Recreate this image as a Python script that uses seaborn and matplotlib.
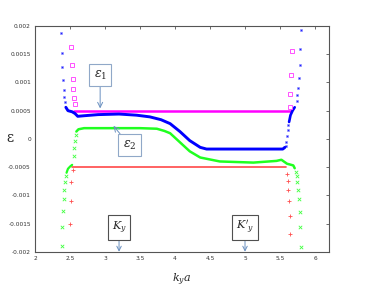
import numpy as np
import seaborn as sns
import matplotlib
matplotlib.use('Agg')
import matplotlib.pyplot as plt

# --- eps1 upper branch (magenta, hollow squares)
mag_line_x = [2.56, 3.0, 4.0, 5.0, 5.66]
mag_line_y = [0.0005, 0.0005, 0.0005, 0.0005, 0.0005]
mag_pts_x = [2.51, 2.53, 2.54, 2.54, 2.56, 2.57, 5.67, 5.66, 5.64, 5.64]
mag_pts_y = [0.00163, 0.00131, 0.00106, 0.00088, 0.00073, 0.00062,
             0.00156, 0.00113, 0.00079, 0.00056]

# --- eps1 (blue, filled squares)
blue_line_x = [2.44, 2.47, 2.53, 2.57, 2.61, 2.7, 2.9, 3.2, 3.45, 3.64, 3.8,
               3.93, 4.07, 4.21, 4.36, 4.45, 5.0, 5.54, 5.57]
blue_line_y = [0.00056, 0.0005, 0.00048, 0.00045, 0.0004, 0.00041, 0.00043,
               0.00044, 0.00042, 0.00039, 0.00034, 0.00027, 0.00013, -0.00003,
               -0.00015, -0.00018, -0.00018, -0.00018, -0.00015]
blue_line2_x = [5.63, 5.65, 5.68, 5.71]
blue_line2_y = [0.0003, 0.00042, 0.0005, 0.00056]
blue_pts_x = [2.37, 2.38, 2.39, 2.40, 2.41, 2.42, 2.43,
              5.58, 5.59, 5.6, 5.61, 5.62,
              5.74, 5.75, 5.76, 5.77, 5.78, 5.79, 5.8]
blue_pts_y = [0.00188, 0.00153, 0.00127, 0.00104, 0.00087, 0.00074, 0.00065,
              -0.00013, -0.00005, 0.00005, 0.00016, 0.00024,
              0.00068, 0.00078, 0.00091, 0.00108, 0.00131, 0.00159, 0.00193]

# --- eps2 (green, x markers)
green_line_x = [2.45, 2.47, 2.5, 2.53]
green_line_y = [-0.0006, -0.00053, -0.00049, -0.00046]
green_line2_x = [2.59, 2.62, 2.7, 3.0, 3.5, 3.74, 3.85, 3.93, 4.07, 4.21,
                 4.36, 4.64, 5.12, 5.45, 5.52, 5.6, 5.69, 5.71]
green_line2_y = [0.00013, 0.00017, 0.00019, 0.00019, 0.00019, 0.00018, 0.00014,
                 0.0001, -0.00006, -0.00022, -0.00033, -0.0004, -0.00042,
                 -0.00039, -0.00037, -0.00044, -0.00047, -0.00052]
green_pts_x = [2.38, 2.39, 2.40, 2.41, 2.42, 2.43, 2.44,
               2.55, 2.56, 2.57, 2.58,
               5.73, 5.74, 5.75, 5.76, 5.77, 5.78, 5.79, 5.8]
green_pts_y = [-0.0019, -0.00157, -0.00128, -0.00107, -0.0009, -0.00076, -0.00066,
               -0.00031, -0.00016, -0.00004, 0.00007,
               -0.00058, -0.00066, -0.00077, -0.0009, -0.00107, -0.00129,
               -0.00157, -0.00192]

# --- eps2 lower branch (red, + markers)
red_line_x = [2.53, 3.0, 4.0, 5.0, 5.58]
red_line_y = [-0.0005, -0.0005, -0.0005, -0.0005, -0.0005]
red_pts_x = [2.54, 2.52, 2.51, 2.5, 5.6, 5.62, 5.62, 5.63, 5.64, 5.65]
red_pts_y = [-0.00055, -0.00077, -0.0011, -0.00151,
             -0.00063, -0.00075, -0.0009, -0.0011, -0.00136, -0.00169]

xticks = [2, 2.5, 3, 3.5, 4, 4.5, 5, 5.5, 6]
xticklabels = ['2', '2.5', '3', '3.5', '4', '4.5', '5', '5.5', '6']
yticks = [-0.002, -0.0015, -0.001, -0.0005, 0, 0.0005, 0.001, 0.0015, 0.002]
yticklabels = ['-0.002', '-0.0015', '-0.001', '-0.0005', '0',
               '0.0005', '0.001', '0.0015', '0.002']

sns.set_style('white')
plt.rcParams['font.family'] = ['DejaVu Sans']
plt.rcParams['mathtext.fontset'] = 'dejavuserif'

fig = plt.figure(figsize=(3.73, 2.99), dpi=100)
ax = fig.add_axes([0.094, 0.158, 0.788, 0.755])

def line(x, y, c, lw):
    sns.lineplot(x=x, y=y, color=c, linewidth=lw, sort=False, estimator=None, ax=ax)

line(mag_line_x, mag_line_y, '#ff00ff', 1.8)
line(red_line_x, red_line_y, '#ff4848', 1.2)
line(green_line_x, green_line_y, '#20ff20', 1.6)
line(green_line2_x, green_line2_y, '#20ff20', 1.8)
line(blue_line_x, blue_line_y, '#0000ff', 2.1)
line(blue_line2_x, blue_line2_y, '#0000ff', 1.9)

# hollow squares through a marker-only lineplot
sns.lineplot(x=mag_pts_x, y=mag_pts_y, sort=False, estimator=None, linestyle='',
             marker='s', markersize=2.8, markerfacecolor='none',
             markeredgecolor='#ff50ff', markeredgewidth=0.7, color='#ff50ff', ax=ax)
sns.scatterplot(x=blue_pts_x, y=blue_pts_y, marker='s', s=3.5, color='#2020ff',
                edgecolor='#9090ff', linewidth=0.4, ax=ax)
sns.scatterplot(x=green_pts_x, y=green_pts_y, marker='x', s=6, color='#40ff40',
                linewidth=0.6, ax=ax)
sns.scatterplot(x=red_pts_x, y=red_pts_y, marker='+', s=7, color='#ff5050',
                linewidth=0.6, ax=ax)

ax.set_xlim(2, 6.2)
ax.set_ylim(-0.002, 0.002)
ax.set_xticks(xticks)
ax.set_xticklabels(xticklabels)
ax.set_yticks(yticks)
ax.set_yticklabels(yticklabels)
ax.tick_params(direction='in', length=2.5, width=0.6, labelsize=4.2,
               labelcolor='#333333', color='#555555', top=True, right=True, pad=3)
for sp in ax.spines.values():
    sp.set_color('#555555')
    sp.set_linewidth(0.8)

fig.text(10 / 373, 1 - 138 / 299, 'ε', fontsize=10, family='DejaVu Serif',
         ha='center', va='center')
ax.set_xlabel(r'$k_y a$', fontsize=8, labelpad=8)

blue_box = dict(boxstyle='square,pad=0.35', fc='white', ec='#90a8c8', lw=0.8)
k_box = dict(boxstyle='square,pad=0.35', fc='white', ec='#505050', lw=0.8)
arr = dict(arrowstyle='->', color='#6a90c0', lw=0.7, shrinkA=0, shrinkB=0)

ax.annotate(r'$\varepsilon_1$', xy=(2.93, 0.00054), xytext=(2.93, 0.00113),
            fontsize=9, ha='center', va='center', bbox=blue_box, arrowprops=arr)
ax.annotate(r'$\varepsilon_2$', xy=(3.12, 0.00023), xytext=(3.35, -0.00011),
            fontsize=9, ha='center', va='center', bbox=blue_box, arrowprops=arr)
ax.annotate(r'$K_y$', xy=(3.2, -0.002), xytext=(3.2, -0.00157),
            fontsize=8, ha='center', va='center', bbox=k_box, arrowprops=arr)
ax.annotate(r"$K'_y$", xy=(5.0, -0.002), xytext=(5.0, -0.00157),
            fontsize=8, ha='center', va='center', bbox=k_box, arrowprops=arr)

fig.savefig('out.png', dpi=100)
